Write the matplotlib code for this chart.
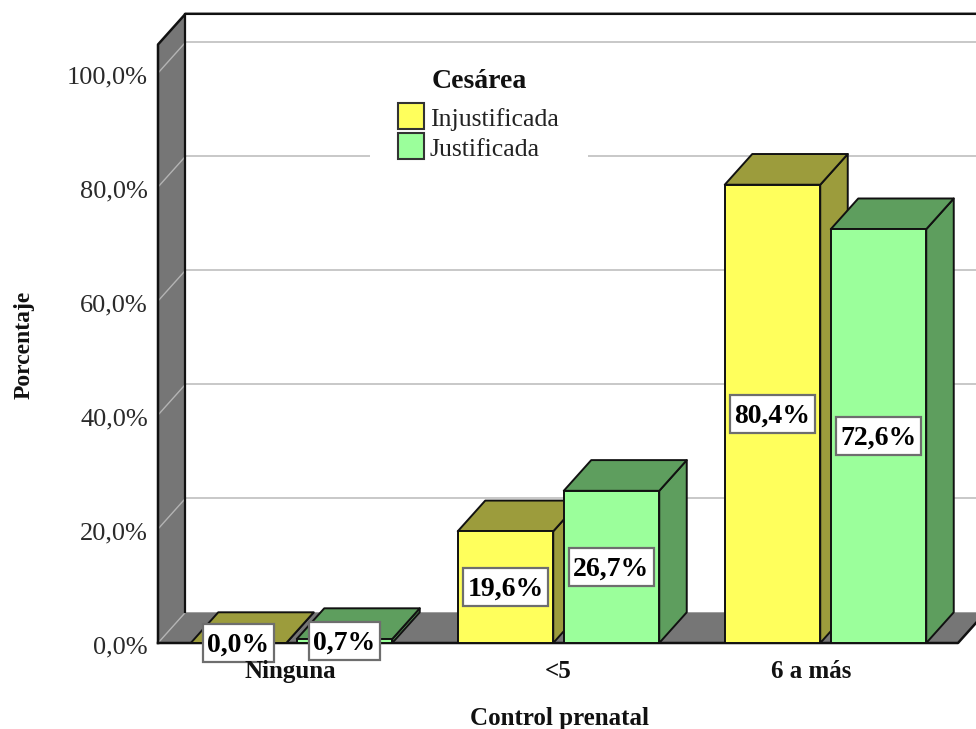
import matplotlib
matplotlib.use("Agg")
import matplotlib.pyplot as plt
from matplotlib.patches import Polygon, Rectangle

plt.rcParams['font.family'] = ['Liberation Serif', 'DejaVu Serif']

categories = ["Ninguna", "<5", "6 a más"]
series_names = ["Injustificada", "Justificada"]
injustificada = [0.0, 19.6, 80.4]
justificada = [0.7, 26.7, 72.6]
y_ticks = [0, 20, 40, 60, 80, 100]
y_tick_labels = ["0,0%", "20,0%", "40,0%", "60,0%", "80,0%", "100,0%"]

W, H = 976, 729
PX_PER_PCT = 5.70     # vertical scale
PX_PER_CAT = 267.0    # horizontal scale
X0_PX, Y0_PX = 291.5, 643.0   # pixel position of category 0 / value 0


def px_x(p):
    return (p - X0_PX) / PX_PER_CAT


def px_y(p):
    return (Y0_PX - p) / PX_PER_PCT


fig = plt.figure(figsize=(W / 100, H / 100), dpi=100, facecolor="white")
ax = fig.add_axes([0, 0, 1, 1])
ax.set_xlim(px_x(0), px_x(W))
ax.set_ylim(px_y(H), px_y(0))
ax.axis("off")

# Oblique depth of the 3D box
DX = 27.5 / PX_PER_CAT
DY = 30.7 / PX_PER_PCT
BAR_W = 95.5 / PX_PER_CAT
GAP = 10.5 / PX_PER_CAT
LEFT = px_x(158)
RIGHT = px_x(958)
TOP = 105.0
EDGE_RIGHT = px_x(W + 40)
WALL = "#767676"
GRID = "#c4c4c4"
LINE = "#111111"

# Floor and side wall
ax.add_patch(Polygon([(LEFT, 0), (LEFT + DX, DY), (RIGHT + DX, DY), (RIGHT, 0)],
                     fc=WALL, ec="none", zorder=1))
ax.add_patch(Polygon([(LEFT, 0), (LEFT, TOP), (LEFT + DX, TOP + DY), (LEFT + DX, DY)],
                     fc=WALL, ec="none", zorder=1))

# Gridlines on the back wall and their continuation on the side wall
for t in y_ticks[1:]:
    ax.plot([LEFT + DX, EDGE_RIGHT], [t + DY, t + DY], color=GRID, lw=1.3, zorder=0.5)
for t in y_ticks:
    ax.plot([LEFT, LEFT + DX], [t, t + DY], color="#b4b4b4", lw=1.0, zorder=1.2)

# Box outline
ax.plot([LEFT, LEFT, LEFT + DX, EDGE_RIGHT], [0, TOP, TOP + DY, TOP + DY],
        color=LINE, lw=1.8, zorder=2)
ax.plot([LEFT + DX, LEFT + DX], [TOP + DY, DY], color=LINE, lw=1.6, zorder=2)
ax.plot([LEFT, RIGHT, RIGHT + DX], [0, 0, DY], color=LINE, lw=1.8, zorder=2)


def bar3d(x, value, front, top, side, z):
    """Oblique 3D bar with its front-left corner at x."""
    xr = x + BAR_W
    style = dict(ec=LINE, lw=1.4, joinstyle="round", zorder=z)
    ax.add_patch(Polygon([(xr, 0), (xr + DX, DY), (xr + DX, value + DY), (xr, value)],
                         fc=side, **style))
    ax.add_patch(Polygon([(x, value), (x + DX, value + DY), (xr + DX, value + DY), (xr, value)],
                         fc=top, **style))
    ax.add_patch(Rectangle((x, 0), BAR_W, value, fc=front, **style))


COLORS = [("#ffff5c", "#9c9c3c", "#9c9c3c"), ("#9bff9b", "#5e9e5e", "#5e9e5e")]
for i in range(len(categories)):
    bar3d(i - GAP / 2 - BAR_W, injustificada[i], *COLORS[0], z=3 + i)
    bar3d(i + GAP / 2, justificada[i], *COLORS[1], z=3.5 + i)

# Value labels centred on each front face, with a fixed-height white box
renderer = fig.canvas.get_renderer()
BOX_H = 38 / PX_PER_PCT
for i in range(len(categories)):
    for j, vals in enumerate((injustificada, justificada)):
        v = vals[i]
        xc = i + (j - 0.5) * (BAR_W + GAP)
        txt = ax.text(xc, v / 2 + 0.2, f"{v:.1f}%".replace(".", ","), ha="center",
                      va="center_baseline", fontsize=20, fontweight="bold",
                      color="black", zorder=10)
        bw = (txt.get_window_extent(renderer).width + 9) / PX_PER_CAT
        ax.add_patch(Rectangle((xc - bw / 2, v / 2 - BOX_H / 2), bw, BOX_H, fc="white",
                               ec="#6e6e6e", lw=1.6, zorder=9))

# Axis text
for t, lab in zip(y_ticks, y_tick_labels):
    ax.text(px_x(148), t - 0.3, lab, ha="right", va="center_baseline",
            fontsize=19, color="#2a2a2a", zorder=6)
category_centres = [290, 558, 811]
for c, xc in zip(categories, category_centres):
    ax.text(px_x(xc), px_y(669), c, ha="center", va="center_baseline",
            fontsize=18, fontweight="bold", color="#111111", zorder=11)
ax.text(px_x(559), px_y(716), "Control prenatal", ha="center", va="center_baseline",
        fontsize=18, fontweight="bold", color="#111111")
ax.text(px_x(24), px_y(345), "Porcentaje", rotation=90, ha="center", va="center",
        fontsize=17, fontweight="bold", color="#111111")

# Legend block sits on a white panel that interrupts the gridlines
ax.add_patch(Rectangle((px_x(370), px_y(165)), 218 / PX_PER_CAT, 110 / PX_PER_PCT,
                       fc="white", ec="none", zorder=2.5))
ax.text(px_x(479), px_y(78), "Cesárea", ha="center", va="center_baseline",
        fontsize=20, fontweight="bold", color="#111111", zorder=6)
for name, (front, _, _), ypx in zip(series_names, COLORS, (116, 146)):
    ax.add_patch(Rectangle((px_x(398), px_y(ypx + 13)), 26 / PX_PER_CAT, 26 / PX_PER_PCT,
                           fc=front, ec="#333333", lw=1.5, zorder=6))
    ax.text(px_x(430), px_y(ypx + 1), name, ha="left", va="center_baseline",
            fontsize=18.5, color="#222222", zorder=6)

fig.savefig("out.png", dpi=100)
